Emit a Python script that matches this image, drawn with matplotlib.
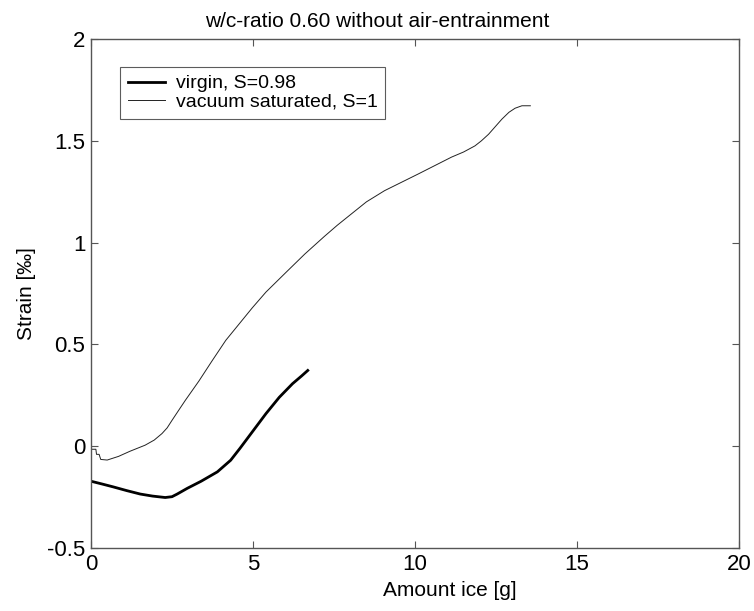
import matplotlib
matplotlib.use('Agg')
import matplotlib.pyplot as plt
from matplotlib.ticker import FuncFormatter

# Data.
virgin_ice = [0.0, 0.35, 0.69, 1.1, 1.52, 1.9, 2.29, 2.5, 2.66, 2.97, 3.4,
              3.9, 4.31, 4.6, 5.0, 5.4, 5.81, 6.22, 6.5, 6.69]
virgin_strain = [-0.172, -0.186, -0.2, -0.218, -0.235, -0.245, -0.252,
                 -0.248, -0.235, -0.207, -0.172, -0.126, -0.069, -0.01,
                 0.075, 0.16, 0.24, 0.307, 0.345, 0.372]

vacuum_ice = [0.03, 0.15, 0.17, 0.25, 0.3, 0.5, 0.85, 1.2, 1.67, 1.95,
              2.19, 2.35, 2.5, 2.7, 2.91, 3.33, 3.74, 4.16, 4.57, 4.98,
              5.4, 6.02, 6.6, 7.2, 7.6, 8.03, 8.5, 9.06, 10.1, 11.13, 11.5,
              11.85, 12.05, 12.27, 12.68, 12.9, 13.09, 13.3, 13.56]
vacuum_strain = [-0.015, -0.015, -0.04, -0.04, -0.065, -0.068, -0.05,
                 -0.025, 0.005, 0.03, 0.062, 0.09, 0.127, 0.175, 0.225,
                 0.32, 0.42, 0.52, 0.6, 0.68, 0.757, 0.854, 0.944, 1.03,
                 1.085, 1.14, 1.2, 1.255, 1.337, 1.42, 1.445, 1.475, 1.5,
                 1.532, 1.606, 1.64, 1.66, 1.672, 1.672]

series_labels = ['virgin, S=0.98', 'vacuum saturated, S=1']
x_ticks = [0, 5, 10, 15, 20]
y_ticks = [-0.5, 0, 0.5, 1, 1.5, 2]

plt.rcParams['font.family'] = ['Liberation Sans', 'DejaVu Sans']
plt.rcParams['axes.unicode_minus'] = False

fig = plt.figure(figsize=(7.54, 6.11), dpi=100)
ax = fig.add_axes([0.1207, 0.1031, 0.8594, 0.8331])

ax.plot(virgin_ice, virgin_strain, color='black', lw=2.0,
        label=series_labels[0])
ax.plot(vacuum_ice, vacuum_strain, color='#222222', lw=0.7,
        label=series_labels[1])

ax.set_xlim(0, 20)
ax.set_ylim(-0.5, 2)
ax.set_xticks(x_ticks)
ax.set_yticks(y_ticks)
ax.yaxis.set_major_formatter(FuncFormatter(lambda v, p: '%g' % v))
ax.xaxis.set_major_formatter(FuncFormatter(lambda v, p: '%g' % v))

axis_col = '#555555'
for s in ax.spines.values():
    s.set_color(axis_col)
    s.set_linewidth(1.0)
ax.tick_params(direction='in', length=5, width=0.8, color=axis_col,
               top=True, right=True, labelsize=16, pad=4)

ax.set_xlabel('Amount ice [g]', fontsize=15, labelpad=2)
ax.xaxis.set_label_coords(0.554, -0.065)
ax.set_ylabel('Strain [\u2030]', fontsize=15, labelpad=8)

fig.text(0.5, 1 - 27 / 611, 'w/c-ratio 0.60 without air-entrainment',
         ha='center', va='baseline', fontsize=15)

leg = ax.legend(loc='upper left', bbox_to_anchor=(0.0448, 0.945),
                borderaxespad=0, fontsize=14, frameon=True, fancybox=False,
                edgecolor='#333333', handlelength=1.9, handletextpad=0.57,
                labelspacing=0.05, borderpad=0.4)
leg.get_frame().set_linewidth(0.8)

fig.savefig('out.png', dpi=100, facecolor='white')
